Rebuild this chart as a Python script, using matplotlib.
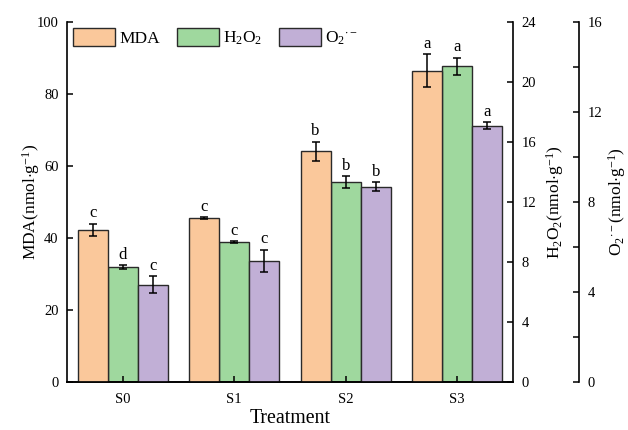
import matplotlib
matplotlib.use('Agg')
import matplotlib.pyplot as plt
import numpy as np

plt.rcParams['font.family'] = ['Liberation Serif', 'DejaVu Serif']
plt.rcParams['mathtext.fontset'] = 'custom'
plt.rcParams['mathtext.rm'] = 'Liberation Serif'
plt.rcParams['mathtext.it'] = 'Liberation Serif:italic'

# data
treatments = ['S0', 'S1', 'S2', 'S3']
mda = [42.3, 45.5, 64.1, 86.5]
mda_err = [1.7, 0.3, 2.7, 4.5]
mda_letters = ['c', 'c', 'b', 'a']
h2o2 = [7.65, 9.31, 13.33, 21.04]
h2o2_err = [0.12, 0.06, 0.4, 0.58]
h2o2_letters = ['d', 'c', 'b', 'a']
o2 = [4.32, 5.39, 8.68, 11.39]
o2_err = [0.38, 0.49, 0.2, 0.16]
o2_letters = ['c', 'c', 'b', 'a']

colors = ['#FAC89B', '#9FD89E', '#C1AFD6']
edge = '#2a2a2a'

fig = plt.figure(figsize=(6.28, 4.30), dpi=100)
ax = fig.add_axes([0.1067, 0.1116, 0.7102, 0.8372])
ax2 = ax.twinx()
ax3 = ax.twinx()
# keep the MDA axis (and its x ticks) on top
ax.set_zorder(3)
ax.patch.set_visible(False)

x = np.arange(len(treatments))
width = 0.27

def draw(axis, xs, vals, errs, letters, color, label, off):
    b = axis.bar(xs, vals, width, color=color, edgecolor=edge, linewidth=1.0, label=label, zorder=2)
    axis.errorbar(xs, vals, yerr=errs, fmt='none', ecolor='black', elinewidth=1.1,
                  capsize=3, capthick=1.1, zorder=3)
    for xi, v, e, t in zip(xs, vals, errs, letters):
        axis.text(xi, v + e + off, t, ha='center', va='bottom', fontsize=12)
    return b

b1 = draw(ax, x - width, mda, mda_err, mda_letters, colors[0], 'MDA', 0.6)
b2 = draw(ax2, x, h2o2, h2o2_err, h2o2_letters, colors[1], r'H$_2$O$_2$', 0.15)
b3 = draw(ax3, x + width, o2, o2_err, o2_letters, colors[2], r'O$_2$$^{\cdot -}$', 0.1)

ax.set_xlim(-0.5, 3.5)
ax.set_ylim(0, 100)
ax2.set_ylim(0, 24)
ax3.set_ylim(0, 16)

ax.set_xticks(x, treatments)
ax.set_yticks(np.arange(0, 101, 20))
ax2.set_yticks(np.arange(0, 25, 4))
ax3.set_yticks(np.arange(0, 17, 4))
ax3.set_yticks(np.arange(0, 17, 2), minor=True)

for a in (ax, ax2, ax3):
    a.spines['top'].set_visible(False)
    for s in a.spines.values():
        s.set_linewidth(1.2)
    a.tick_params(direction='in', length=4, width=1.1, labelsize=10.5, pad=6)
    a.tick_params(which='minor', direction='in', length=4, width=1.1)
ax.spines['right'].set_visible(False)
ax2.spines['left'].set_visible(False)
ax3.spines['left'].set_visible(False)
ax3.spines['bottom'].set_visible(False)
ax3.spines['right'].set_position(('axes', 1.148))
ax.tick_params(axis='x', labelsize=10.5, pad=8)

ax.set_xlabel('Treatment', fontsize=14.3, labelpad=2)
ax.set_ylabel(r'MDA(nmol$\cdot$g$^{-1}$)', fontsize=12.5, labelpad=-4)
ax2.set_ylabel(r'H$_2$O$_2$(nmol$\cdot$g$^{-1}$)', fontsize=12.5, labelpad=6)
ax3.set_ylabel(r'O$_2$$^{\cdot -}$(nmol$\cdot$g$^{-1}$)', fontsize=12.5, labelpad=3)

ax.legend(handles=[b1, b2, b3], loc='upper left', ncol=3, frameon=False, fontsize=12.5,
          handlelength=2.4, handleheight=1.15, handletextpad=0.23, columnspacing=1.0,
          borderaxespad=0.2, bbox_to_anchor=(-0.009, 1.011))

plt.savefig('out.png', dpi=100)
